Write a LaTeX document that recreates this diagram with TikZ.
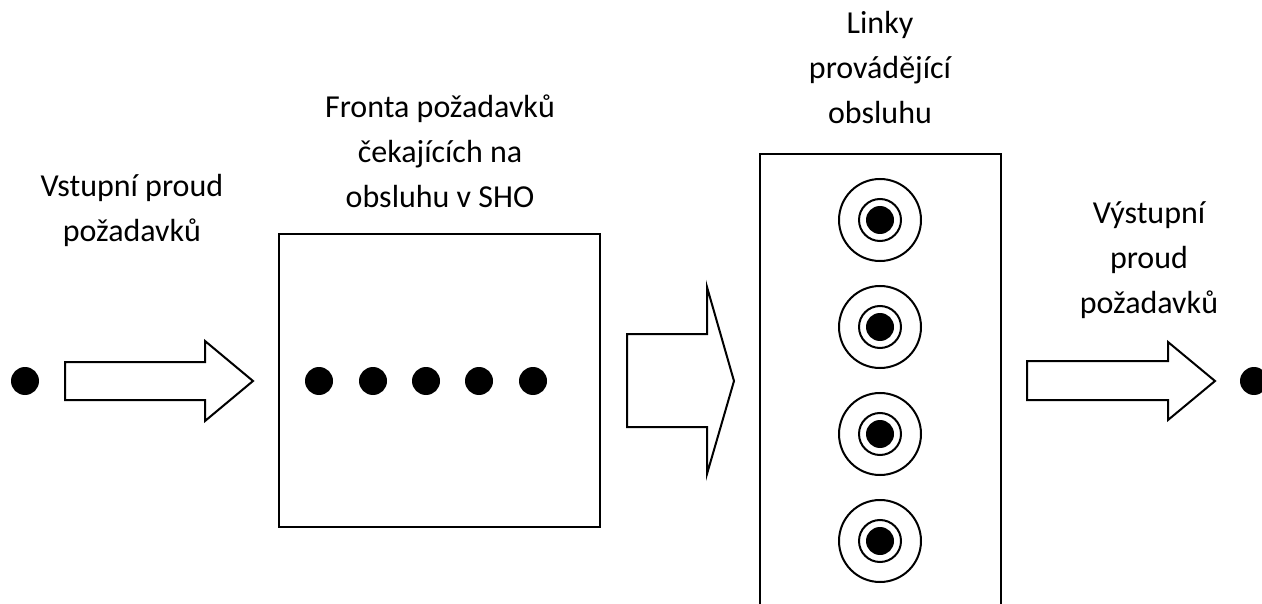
\documentclass[tikz,border=0pt]{standalone}
\usepackage{fontspec}
\setmainfont{Carlito}
\usetikzlibrary{positioning}

\begin{document}
\begin{tikzpicture}[x=1pt, y=-1pt, line width=2pt,
    dot/.style={circle, fill=black, inner sep=0pt, minimum size=28pt},
    ring/.style={circle, draw, inner sep=0pt},
    caption/.style={font=\fontsize{32}{45}\selectfont, align=center, anchor=base, inner sep=0pt}]
  \useasboundingbox (0,0) rectangle (1262,604);

  % texts (base = last line)
  \node[caption] (inText) at (132,242) {Vstupní proud\\požadavků};
  \node[caption] (queueText) at (440,208) {Fronta požadavků\\čekajících na\\obsluhu v SHO};
  \node[caption] (srvText) at (880,124) {Linky\\provádějící\\obsluhu};
  \node[caption] (outText) at (1149,313) {Výstupní\\proud\\požadavků};

  % incoming request
  \node[dot] (inDot) at (25,381) {};
  \draw (65,362) -- (205,362) -- (205,341) -- (253,381) -- (205,421) -- (205,400) -- (65,400) -- cycle;

  % queue
  \node[draw, inner sep=0pt, minimum width=321pt, minimum height=293pt] (queue) at (439.5,380.5) {};
  \foreach \x [count=\i] in {319,373,426,479,533}
    \node[dot] (q\i) at (\x,381) {};

  \draw (627,334) -- (707,334) -- (707,287) -- (734,381) -- (707,474) -- (707,427) -- (627,427) -- cycle;

  % service channels
  \draw (760,620) -- (760,154) -- (1001,154) -- (1001,620);
  \foreach \y [count=\i] in {220,327,434,541} {
    \node[ring, minimum size=82pt] (srv\i) at (880,\y) {};
    \node[ring, minimum size=42pt] at (srv\i) {};
    \node[dot] at (srv\i) {};
  }

  % outgoing request
  \draw (1027,361) -- (1168,361) -- (1168,342) -- (1215,381) -- (1168,420) -- (1168,400) -- (1027,400) -- cycle;
  \node[dot] (outDot) at (1254,381) {};
\end{tikzpicture}
\end{document}
